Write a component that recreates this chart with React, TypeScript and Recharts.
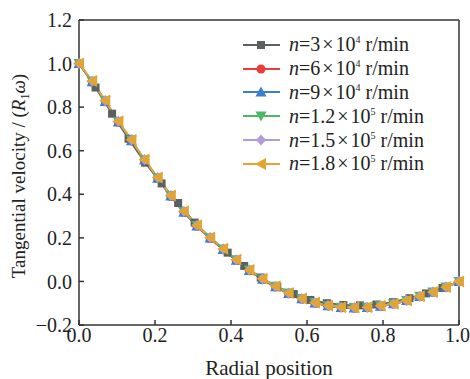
import React from 'react';
import { LineChart, Line, XAxis, YAxis, ReferenceLine } from 'recharts';

// radial positions (two sampling grids)
const xFine = [0, 0.0345, 0.069, 0.1034, 0.1379, 0.1724, 0.2069, 0.2414, 0.2759, 0.3103, 0.3448, 0.3793, 0.4138, 0.4483, 0.4828, 0.5172, 0.5517, 0.5862, 0.6207, 0.6552, 0.6897, 0.7241, 0.7586, 0.7931, 0.8276, 0.8621, 0.8966, 0.931, 0.9655, 1.0];
const xCoarse = [0, 0.0435, 0.087, 0.1304, 0.1739, 0.2174, 0.2609, 0.3043, 0.3478, 0.3913, 0.4348, 0.4783, 0.5217, 0.5652, 0.6087, 0.6522, 0.6957, 0.7391, 0.7826, 0.8261, 0.8696, 0.913, 0.9565, 1.0];

// tangential velocity / (R1 w)
const v3e4 = [1.0, 0.89, 0.77, 0.655, 0.545, 0.45, 0.36, 0.27, 0.197, 0.132, 0.071, 0.018, -0.025, -0.058, -0.085, -0.1, -0.108, -0.11, -0.106, -0.095, -0.077, -0.055, -0.03, 0.0];
const v6e4 = [1.0, 0.915, 0.825, 0.73, 0.645, 0.555, 0.472, 0.39, 0.317, 0.253, 0.197, 0.145, 0.096, 0.049, 0.008, -0.026, -0.057, -0.082, -0.1, -0.113, -0.121, -0.123, -0.121, -0.115, -0.104, -0.089, -0.07, -0.05, -0.027, 0.0];
const v9e4 = [1.0, 0.917, 0.826, 0.732, 0.646, 0.557, 0.474, 0.392, 0.318, 0.255, 0.199, 0.146, 0.097, 0.05, 0.01, -0.024, -0.055, -0.08, -0.099, -0.112, -0.12, -0.122, -0.12, -0.114, -0.103, -0.088, -0.069, -0.049, -0.026, 0.0];
const v12e5 = [1.0, 0.919, 0.829, 0.734, 0.649, 0.559, 0.476, 0.394, 0.321, 0.257, 0.201, 0.149, 0.099, 0.052, 0.011, -0.022, -0.053, -0.078, -0.097, -0.11, -0.118, -0.12, -0.118, -0.112, -0.102, -0.087, -0.068, -0.048, -0.025, 0.0];
const v15e5 = [1.0, 0.92, 0.83, 0.735, 0.65, 0.56, 0.477, 0.395, 0.322, 0.258, 0.202, 0.15, 0.1, 0.053, 0.012, -0.022, -0.053, -0.078, -0.097, -0.11, -0.118, -0.12, -0.118, -0.112, -0.102, -0.087, -0.068, -0.048, -0.025, 0.0];
const v18e5 = [1.0, 0.92, 0.83, 0.735, 0.65, 0.56, 0.477, 0.395, 0.322, 0.258, 0.202, 0.15, 0.1, 0.053, 0.012, -0.022, -0.053, -0.078, -0.097, -0.11, -0.118, -0.12, -0.118, -0.112, -0.102, -0.087, -0.068, -0.048, -0.025, 0.0];

const mantissas = ['3', '6', '9', '1.2', '1.5', '1.8'];
const exponents = ['4', '4', '4', '5', '5', '5'];
const colors = ['#5b6060', '#ee3a3a', '#3a7fcc', '#4cb865', '#b29bd6', '#e3a531'];
const shapes = ['square', 'circle', 'up', 'down', 'diamond', 'left'];

const xTicks = [0, 0.2, 0.4, 0.6, 0.8, 1.0];
const yTicks = [-0.2, 0, 0.2, 0.4, 0.6, 0.8, 1.0, 1.2];

const toRows = (xs: number[], ys: number[]) => xs.map((x, i) => ({ x, y: ys[i] }));
const seriesData = [
  toRows(xCoarse, v3e4),
  toRows(xFine, v6e4),
  toRows(xFine, v9e4),
  toRows(xFine, v12e5),
  toRows(xFine, v15e5),
  toRows(xFine, v18e5),
];

const FONT = '"Liberation Serif", "Times New Roman", serif';

function Marker({ shape, cx, cy, fill }: { shape: string; cx: number; cy: number; fill: string }) {
  switch (shape) {
    case 'square':
      return <rect x={cx - 4} y={cy - 4} width={8} height={8} fill={fill} />;
    case 'circle':
      return <circle cx={cx} cy={cy} r={4.5} fill={fill} />;
    case 'up':
      return <polygon points={`${cx},${cy - 5.5} ${cx + 5.5},${cy + 4.5} ${cx - 5.5},${cy + 4.5}`} fill={fill} />;
    case 'down':
      return <polygon points={`${cx},${cy + 5.5} ${cx + 5.5},${cy - 4.5} ${cx - 5.5},${cy - 4.5}`} fill={fill} />;
    case 'diamond':
      return <polygon points={`${cx},${cy - 5.5} ${cx + 5},${cy} ${cx},${cy + 5.5} ${cx - 5},${cy}`} fill={fill} />;
    default:
      return <polygon points={`${cx - 6},${cy} ${cx + 5},${cy - 6} ${cx + 5},${cy + 6}`} fill={fill} />;
  }
}

const fmt = (v: number) => (v < 0 ? '\u2212' + Math.abs(v).toFixed(1) : v.toFixed(1));

function LegendBox() {
  return (
    <div style={{ position: 'absolute', left: 243, top: 33, fontFamily: FONT, fontSize: 20, color: '#222' }}>
      {mantissas.map((m, i) => (
        <div key={i} style={{ display: 'flex', alignItems: 'center', height: 23.8, whiteSpace: 'nowrap' }}>
          <svg width={44} height={16} style={{ marginRight: 2 }}>
            <line x1={0} y1={8} x2={37} y2={8} stroke={colors[i]} strokeWidth={2} />
            <Marker shape={shapes[i]} cx={18} cy={8} fill={colors[i]} />
          </svg>
          <span>
            <i>n</i>={m}<span style={{ margin: '0 2px' }}>×</span>10
            <sup style={{ fontSize: 10 }}>{exponents[i]}</sup> r/min
          </span>
        </div>
      ))}
    </div>
  );
}

function YLabel() {
  return (
    <text x={0} y={0} transform="translate(25, 176) rotate(-90)" textAnchor="middle" fill="#222" fontSize={19} fontFamily={FONT}>
      Tangential velocity / (<tspan fontStyle="italic">R</tspan>
      <tspan fontSize={12} dy={4}>1</tspan>
      <tspan fontStyle="italic" dy={-4}>ω</tspan>)
    </text>
  );
}

export default function App() {
  return (
    <div style={{ position: 'absolute', left: 0, top: 0, width: 470, height: 379 }}>
      <LineChart width={470} height={379} margin={{ top: 20, right: 11, left: 19, bottom: 0 }}>
        <XAxis
          dataKey="x"
          type="number"
          domain={[0, 1]}
          ticks={xTicks}
          tickFormatter={fmt}
          allowDuplicatedCategory={false}
          height={54}
          tickSize={-5}
          tickMargin={8}
          stroke="#333"
          strokeWidth={1.5}
          tick={{ fill: '#222', fontSize: 20, fontFamily: FONT }}
          label={{ value: 'Radial position', position: 'insideBottom', offset: 4, fill: '#222', fontSize: 21, fontFamily: FONT }}
        />
        <YAxis
          type="number"
          domain={[-0.2, 1.2]}
          ticks={yTicks}
          tickFormatter={fmt}
          width={60}
          tickSize={-5}
          tickMargin={12}
          stroke="#333"
          strokeWidth={1.5}
          tick={{ fill: '#222', fontSize: 20, fontFamily: FONT }}
          label={<YLabel />}
        />
        <ReferenceLine y={1.2} stroke="#333" strokeWidth={1.5} />
        <ReferenceLine x={1} stroke="#333" strokeWidth={1.5} />
        {seriesData.map((d, i) => (
          <Line
            key={i}
            data={d}
            dataKey="y"
            type="linear"
            stroke={colors[i]}
            strokeWidth={1.8}
            isAnimationActive={false}
            dot={(p: any) => <Marker key={`${i}-${p.index}`} shape={shapes[i]} cx={p.cx} cy={p.cy} fill={colors[i]} />}
            activeDot={false}
          />
        ))}
      </LineChart>
      <LegendBox />
    </div>
  );
}
